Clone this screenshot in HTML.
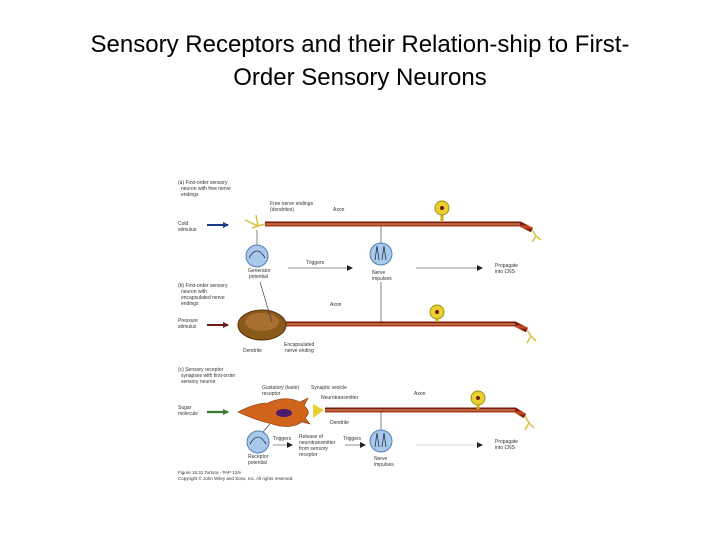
<!DOCTYPE html>
<html><head><style>
body{margin:0;width:720px;height:540px;background:#fff;overflow:hidden;font-family:"Liberation Sans",sans-serif}
h1{position:absolute;top:28px;left:0;width:720px;margin:0;text-align:center;font-weight:normal;font-size:24px;line-height:33px;color:#000}
svg{position:absolute;left:0;top:0}
text{font-family:"Liberation Sans",sans-serif;font-size:5px;fill:#333}
</style></head><body>
<h1>Sensory Receptors and their Relation-ship to First-<br>Order Sensory Neurons</h1>
<svg width="720" height="540" viewBox="0 0 720 540">
<defs>
<marker id="ah" markerUnits="userSpaceOnUse" markerWidth="6" markerHeight="6" refX="5" refY="3" orient="auto"><path d="M0,0L6,3L0,6z" fill="#222"/></marker>
<marker id="ahb" markerUnits="userSpaceOnUse" markerWidth="6" markerHeight="6" refX="5" refY="3" orient="auto"><path d="M0,0L6,3L0,6z" fill="#1a3a8a"/></marker>
<marker id="ahr" markerUnits="userSpaceOnUse" markerWidth="6" markerHeight="6" refX="5" refY="3" orient="auto"><path d="M0,0L6,3L0,6z" fill="#6a1a1a"/></marker>
<marker id="ahg" markerUnits="userSpaceOnUse" markerWidth="6" markerHeight="6" refX="5" refY="3" orient="auto"><path d="M0,0L6,3L0,6z" fill="#3a7a2a"/></marker>
<linearGradient id="ax" x1="0" y1="0" x2="0" y2="1"><stop offset="0" stop-color="#7a1a10"/><stop offset=".5" stop-color="#d0502a"/><stop offset="1" stop-color="#7a1a10"/></linearGradient>
</defs>
<!-- Part a -->
<text x="178" y="184">(a) First-order sensory</text><text x="181" y="190">neuron with free nerve</text><text x="181" y="196">endings</text>
<text x="270" y="205">Free nerve endings</text><text x="270" y="211">(dendrites)</text>
<text x="333" y="211">Axon</text>
<text x="178" y="225">Cold</text><text x="178" y="231">stimulus</text>
<line x1="207" y1="225" x2="228" y2="225" stroke="#1a3a8a" stroke-width="2" marker-end="url(#ahb)"/>
<path d="M265,224 L520,224 L532,230" stroke="url(#ax)" stroke-width="5" fill="none"/>
<path d="M265,224 L520,224" stroke="#e8b060" stroke-width="1" fill="none"/>
<path d="M245,220 L258,226 L265,224 M252,228 L258,226 M258,226 L256,215" stroke="#d8c040" stroke-width="1.5" fill="none"/>
<line x1="442" y1="214" x2="442" y2="222" stroke="#c8b020" stroke-width="3"/>
<circle cx="442" cy="208" r="7" fill="#e8d030" stroke="#a09010"/><circle cx="442" cy="208" r="2" fill="#6a2010"/>
<path d="M532,230 L536,236 L532,242 M536,236 L541,240" stroke="#d8c040" stroke-width="1.5" fill="none"/>
<line x1="257" y1="230" x2="257" y2="246" stroke="#333" stroke-width=".6"/>
<circle cx="257" cy="256" r="11" fill="#a8c8ec" stroke="#5080b0"/>
<path d="M249,258 Q257,244 265,258" stroke="#234" fill="none" stroke-width=".8"/>
<text x="248" y="272">Generator</text><text x="249" y="278">potential</text>
<text x="306" y="264">Triggers</text>
<line x1="288" y1="268" x2="352" y2="268" stroke="#222" stroke-width=".6" marker-end="url(#ah)"/>
<line x1="381" y1="226" x2="381" y2="244" stroke="#333" stroke-width=".6"/>
<circle cx="381" cy="254" r="11" fill="#a8c8ec" stroke="#5080b0"/>
<path d="M375,260 L377,246 L379,260 M382,260 L384,246 L386,260" stroke="#234" fill="none" stroke-width=".8"/>
<text x="372" y="274">Nerve</text><text x="372" y="280">impulses</text>
<line x1="416" y1="268" x2="482" y2="268" stroke="#222" stroke-width=".6" marker-end="url(#ah)"/>
<text x="495" y="267">Propagate</text><text x="495" y="273">into CNS</text>
<!-- Part b -->
<text x="178" y="287">(b) First-order sensory</text><text x="181" y="293">neuron with</text><text x="181" y="299">encapsulated nerve</text><text x="181" y="305">endings</text>
<text x="330" y="306">Axon</text>
<text x="178" y="322">Pressure</text><text x="178" y="328">stimulus</text>
<line x1="207" y1="325" x2="228" y2="325" stroke="#6a1a1a" stroke-width="2" marker-end="url(#ahr)"/>
<path d="M283,324 L515,324 L527,330" stroke="url(#ax)" stroke-width="5" fill="none"/>
<path d="M283,324 L515,324" stroke="#e8b060" stroke-width="1" fill="none"/>
<ellipse cx="262" cy="325" rx="24" ry="15" fill="#8a5a1a" stroke="#5a3008"/>
<ellipse cx="262" cy="322" rx="17" ry="9" fill="#a87030"/>
<line x1="381" y1="282" x2="381" y2="322" stroke="#333" stroke-width=".6"/>
<line x1="260" y1="282" x2="272" y2="322" stroke="#333" stroke-width=".6"/>
<line x1="437" y1="318" x2="437" y2="322" stroke="#c8b020" stroke-width="3"/>
<circle cx="437" cy="312" r="7" fill="#e8d030" stroke="#a09010"/><circle cx="437" cy="312" r="2" fill="#6a2010"/>
<path d="M527,330 L531,336 L527,343 M531,336 L536,341" stroke="#d8c040" stroke-width="1.5" fill="none"/>
<text x="243" y="352">Dendrite</text>
<text x="284" y="346">Encapsulated</text><text x="285" y="352">nerve ending</text>
<!-- Part c -->
<text x="178" y="371">(c) Sensory receptor</text><text x="181" y="377">synapses with first-order</text><text x="181" y="383">sensory neuron</text>
<text x="262" y="389">Gustatory (taste)</text><text x="262" y="395">receptor</text>
<text x="311" y="389">Synaptic vesicle</text>
<text x="321" y="399">Neurotransmitter</text>
<text x="414" y="395">Axon</text>
<text x="178" y="409">Sugar</text><text x="178" y="415">molecule</text>
<line x1="207" y1="412" x2="228" y2="412" stroke="#3a7a2a" stroke-width="2.2" marker-end="url(#ahg)"/>
<path d="M325,410 L515,410 L525,416" stroke="url(#ax)" stroke-width="5" fill="none"/>
<path d="M325,410 L515,410" stroke="#e8b060" stroke-width="1" fill="none"/>
<path d="M238,412 Q255,403 268,403 Q285,395 300,402 L308,398 L304,406 Q312,412 305,418 L310,424 L302,422 Q290,430 272,424 Q255,420 238,412z" fill="#d0641a" stroke="#8a3a08" stroke-width=".6"/>
<ellipse cx="284" cy="413" rx="8" ry="4" fill="#4a1a6a"/>
<path d="M313,404 L324,410 L313,418z" fill="#e8d030"/>
<line x1="478" y1="404" x2="478" y2="409" stroke="#c8b020" stroke-width="3"/>
<circle cx="478" cy="398" r="7" fill="#e8d030" stroke="#a09010"/><circle cx="478" cy="398" r="2" fill="#6a2010"/>
<path d="M525,416 L529,423 L525,430 M529,423 L534,428" stroke="#d8c040" stroke-width="1.5" fill="none"/>
<text x="330" y="424">Dendrite</text>
<line x1="270" y1="424" x2="262" y2="433" stroke="#333" stroke-width=".6"/>
<circle cx="258" cy="442" r="11" fill="#a8c8ec" stroke="#5080b0"/>
<path d="M250,444 Q258,430 266,444" stroke="#234" fill="none" stroke-width=".8"/>
<text x="248" y="458">Receptor</text><text x="248" y="464">potential</text>
<text x="273" y="440">Triggers</text>
<line x1="273" y1="445" x2="292" y2="445" stroke="#222" stroke-width=".6" marker-end="url(#ah)"/>
<text x="299" y="438">Release of</text><text x="299" y="444">neurotransmitter</text><text x="299" y="450">from sensory</text><text x="299" y="456">receptor</text>
<text x="343" y="440">Triggers</text>
<line x1="345" y1="445" x2="365" y2="445" stroke="#222" stroke-width=".6" marker-end="url(#ah)"/>
<line x1="381" y1="412" x2="381" y2="430" stroke="#333" stroke-width=".6"/>
<circle cx="381" cy="441" r="11" fill="#a8c8ec" stroke="#5080b0"/>
<path d="M375,447 L377,433 L379,447 M382,447 L384,433 L386,447" stroke="#234" fill="none" stroke-width=".8"/>
<text x="374" y="460">Nerve</text><text x="374" y="466">impulses</text>
<line x1="416" y1="445" x2="482" y2="445" stroke="#aaa" stroke-width=".6" marker-end="url(#ah)"/>
<text x="495" y="443">Propagate</text><text x="495" y="449">into CNS</text>
<text x="178" y="474" style="font-size:4.5px">Figure 16.31 Tortora - PAP 12/e</text>
<text x="178" y="480" style="font-size:4.5px">Copyright © John Wiley and Sons, Inc. All rights reserved.</text>
</svg>
</body></html>
